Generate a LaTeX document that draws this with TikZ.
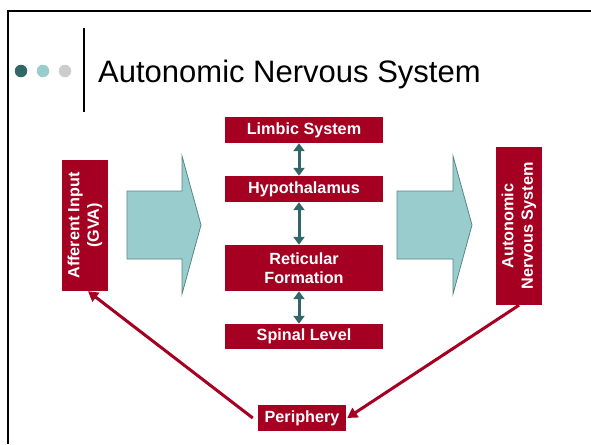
\documentclass[tikz,border=0pt]{standalone}
\usepackage{fontspec}
\setmainfont{Liberation Sans}
\usetikzlibrary{arrows.meta,calc}
\definecolor{crimson}{RGB}{165,0,33}
\definecolor{tealdark}{RGB}{51,102,102}
\definecolor{teallight}{RGB}{153,204,204}
\definecolor{dotgray}{RGB}{204,204,204}
\definecolor{arrowedge}{RGB}{85,135,135}
\begin{document}
\begin{tikzpicture}[x=1pt,y=-1pt,
  box/.style={fill=crimson, text=white, font=\fontsize{16.2}{19.5}\selectfont\bfseries,
    align=center, inner sep=0pt},
  link/.style={draw=tealdark, fill=tealdark, line width=3pt,
    {Triangle[width=11pt,length=8pt]}-{Triangle[width=11pt,length=8pt]}},
  feed/.style={draw=crimson, fill=crimson, line width=3pt,
    -{Triangle[width=11pt,length=10pt]}},
  blockarrow/.style={fill=teallight, draw=arrowedge, line width=0.8pt, line join=miter},
  dot/.style={circle, inner sep=0pt, minimum size=12.5pt}]
\useasboundingbox (0,0) rectangle (591,444);

% slide frame (top and left edges)
\draw[line width=2.5pt] (8,444) -- (8,11) -- (591,11);

% title bar: three dots, separator, heading
\node[dot, fill=tealdark] (d1) at (21,71) {};
\node[dot, fill=teallight] (d2) at (43,71) {};
\node[dot, fill=dotgray] (d3) at (65,71) {};
\draw[line width=1.5pt] (84,28) -- (84,112);
\node[anchor=base west, inner sep=0pt, font=\fontsize{31}{36}\selectfont] (title) at (98,82.5)
  {Autonomic Nervous System};

% broad input / output arrows
\draw[blockarrow] (127,191) -- (182,191) -- (182,156) -- (201,225) -- (182,294)
  -- (182,259) -- (127,259) -- cycle;
\draw[blockarrow] (397,191) -- (453,191) -- (453,156) -- (472,225) -- (453,294)
  -- (453,259) -- (397,259) -- cycle;

% central hierarchy
\node[box, minimum width=158pt, minimum height=26pt] (limbic) at (304,130) {Limbic System};
\node[box, minimum width=158pt, minimum height=26pt] (hypo) at (304,189) {Hypothalamus};
\node[box, minimum width=158pt, minimum height=46pt] (retic) at (304,268) {Reticular\\Formation};
\node[box, minimum width=158pt, minimum height=25pt] (spinal) at (304,336.5) {Spinal Level};

% side boxes (text runs upward)
\node[box, rotate=90, minimum width=131pt, minimum height=46pt] (aff) at (85,225.5)
  {Afferent Input\\(GVA)};
\node[box, rotate=90, minimum width=158pt, minimum height=46pt] (ans) at (519,226)
  {Autonomic\\Nervous System};

\node[box, minimum width=88pt, minimum height=26pt] (peri) at (302,418) {Periphery};

% two-way links in the hierarchy
\draw[link] ([xshift=-5pt]limbic.south) -- ([xshift=-5pt]hypo.north);
\draw[link] ([xshift=-5pt]hypo.south) -- ([xshift=-5pt]retic.north);
\draw[link] ([xshift=-5pt]retic.south) -- ([xshift=-5pt]spinal.north);

% feedback loop through the periphery
\draw[feed] (ans.west) -- ([xshift=1pt]peri.east);
\draw[feed] ([xshift=-5pt]peri.west) -- ([xshift=3pt]aff.west);
\end{tikzpicture}
\end{document}
